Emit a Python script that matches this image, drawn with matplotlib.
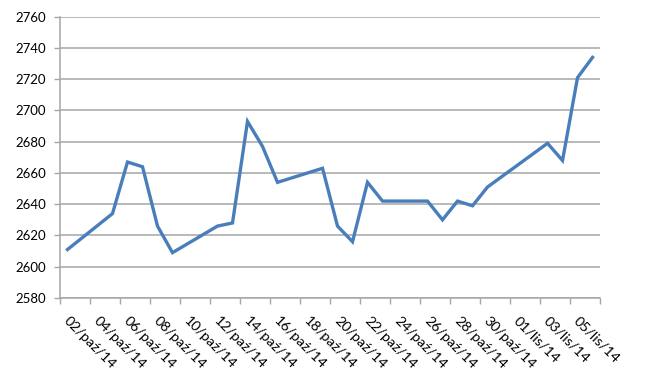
import matplotlib
matplotlib.use("Agg")
import matplotlib.pyplot as plt
import numpy as np
import datetime as dt
import matplotlib.dates as mdates

plt.rcParams['font.family'] = ['Lato', 'DejaVu Sans']

# Data (dates in Oct/Nov 2014)
dates = [dt.date(2014, 10, 2), dt.date(2014, 10, 5), dt.date(2014, 10, 6), dt.date(2014, 10, 7),
         dt.date(2014, 10, 8), dt.date(2014, 10, 9), dt.date(2014, 10, 12), dt.date(2014, 10, 13),
         dt.date(2014, 10, 14), dt.date(2014, 10, 15), dt.date(2014, 10, 16), dt.date(2014, 10, 19),
         dt.date(2014, 10, 20), dt.date(2014, 10, 21), dt.date(2014, 10, 22), dt.date(2014, 10, 23),
         dt.date(2014, 10, 26), dt.date(2014, 10, 27), dt.date(2014, 10, 28), dt.date(2014, 10, 29),
         dt.date(2014, 10, 30), dt.date(2014, 11, 3), dt.date(2014, 11, 4), dt.date(2014, 11, 5),
         dt.date(2014, 11, 6)]
values = [2611, 2634, 2667, 2664, 2626, 2609, 2626, 2628, 2693, 2677, 2654, 2663,
          2626, 2616, 2654, 2642, 2642, 2630, 2642, 2639, 2651, 2679, 2668, 2721, 2734]

tick_labels = ['02/paź/14', '04/paź/14', '06/paź/14', '08/paź/14', '10/paź/14', '12/paź/14',
               '14/paź/14', '16/paź/14', '18/paź/14', '20/paź/14', '22/paź/14', '24/paź/14',
               '26/paź/14', '28/paź/14', '30/paź/14', '01/lis/14', '03/lis/14', '05/lis/14']
label_dates = [dt.date(2014, 10, 2) + dt.timedelta(days=2 * i) for i in range(len(tick_labels))]

y_ticks = list(range(2580, 2761, 20))

fig = plt.figure(figsize=(6.5, 3.81), dpi=100)
ax = fig.add_axes([0.0923, 0.218, 0.8308, 0.738])

xnum = mdates.date2num(dates)
ax.plot(xnum, values, color='#4A7EBB', linewidth=2.4, solid_joinstyle='miter', zorder=3)

start = mdates.date2num(dt.date(2014, 10, 2)) - 0.5
end = mdates.date2num(dt.date(2014, 11, 6)) + 0.5
ax.set_xlim(start, end)
ax.set_ylim(2580, 2760)

ax.set_yticks(y_ticks)
ax.set_yticklabels([str(v) for v in y_ticks], fontsize=9.5)
ax.tick_params(axis='y', length=4, width=1, color='#A6A6A6', direction='out', pad=6)
ax.yaxis.grid(True, color='#A6A6A6', linewidth=1.1)
ax.set_axisbelow(True)

major = np.arange(start, end + 0.01, 2)
ax.set_xticks(major)
ax.set_xticklabels([])
ax.tick_params(axis='x', length=4, width=1, color='#A6A6A6', direction='out')

for d, lab in zip(label_dates, tick_labels):
    x = mdates.date2num(d)
    ax.annotate(lab, xy=(x, 2580), xycoords='data', xytext=(-1, -15), textcoords='offset points',
                rotation=-45, rotation_mode='anchor', ha='left', va='center', fontsize=10.3,
                annotation_clip=False)

for s in ['top', 'right']:
    ax.spines[s].set_visible(False)
for s in ['left', 'bottom']:
    ax.spines[s].set_color('#A6A6A6')
    ax.spines[s].set_linewidth(1.1)

fig.savefig('out.png', dpi=100)
